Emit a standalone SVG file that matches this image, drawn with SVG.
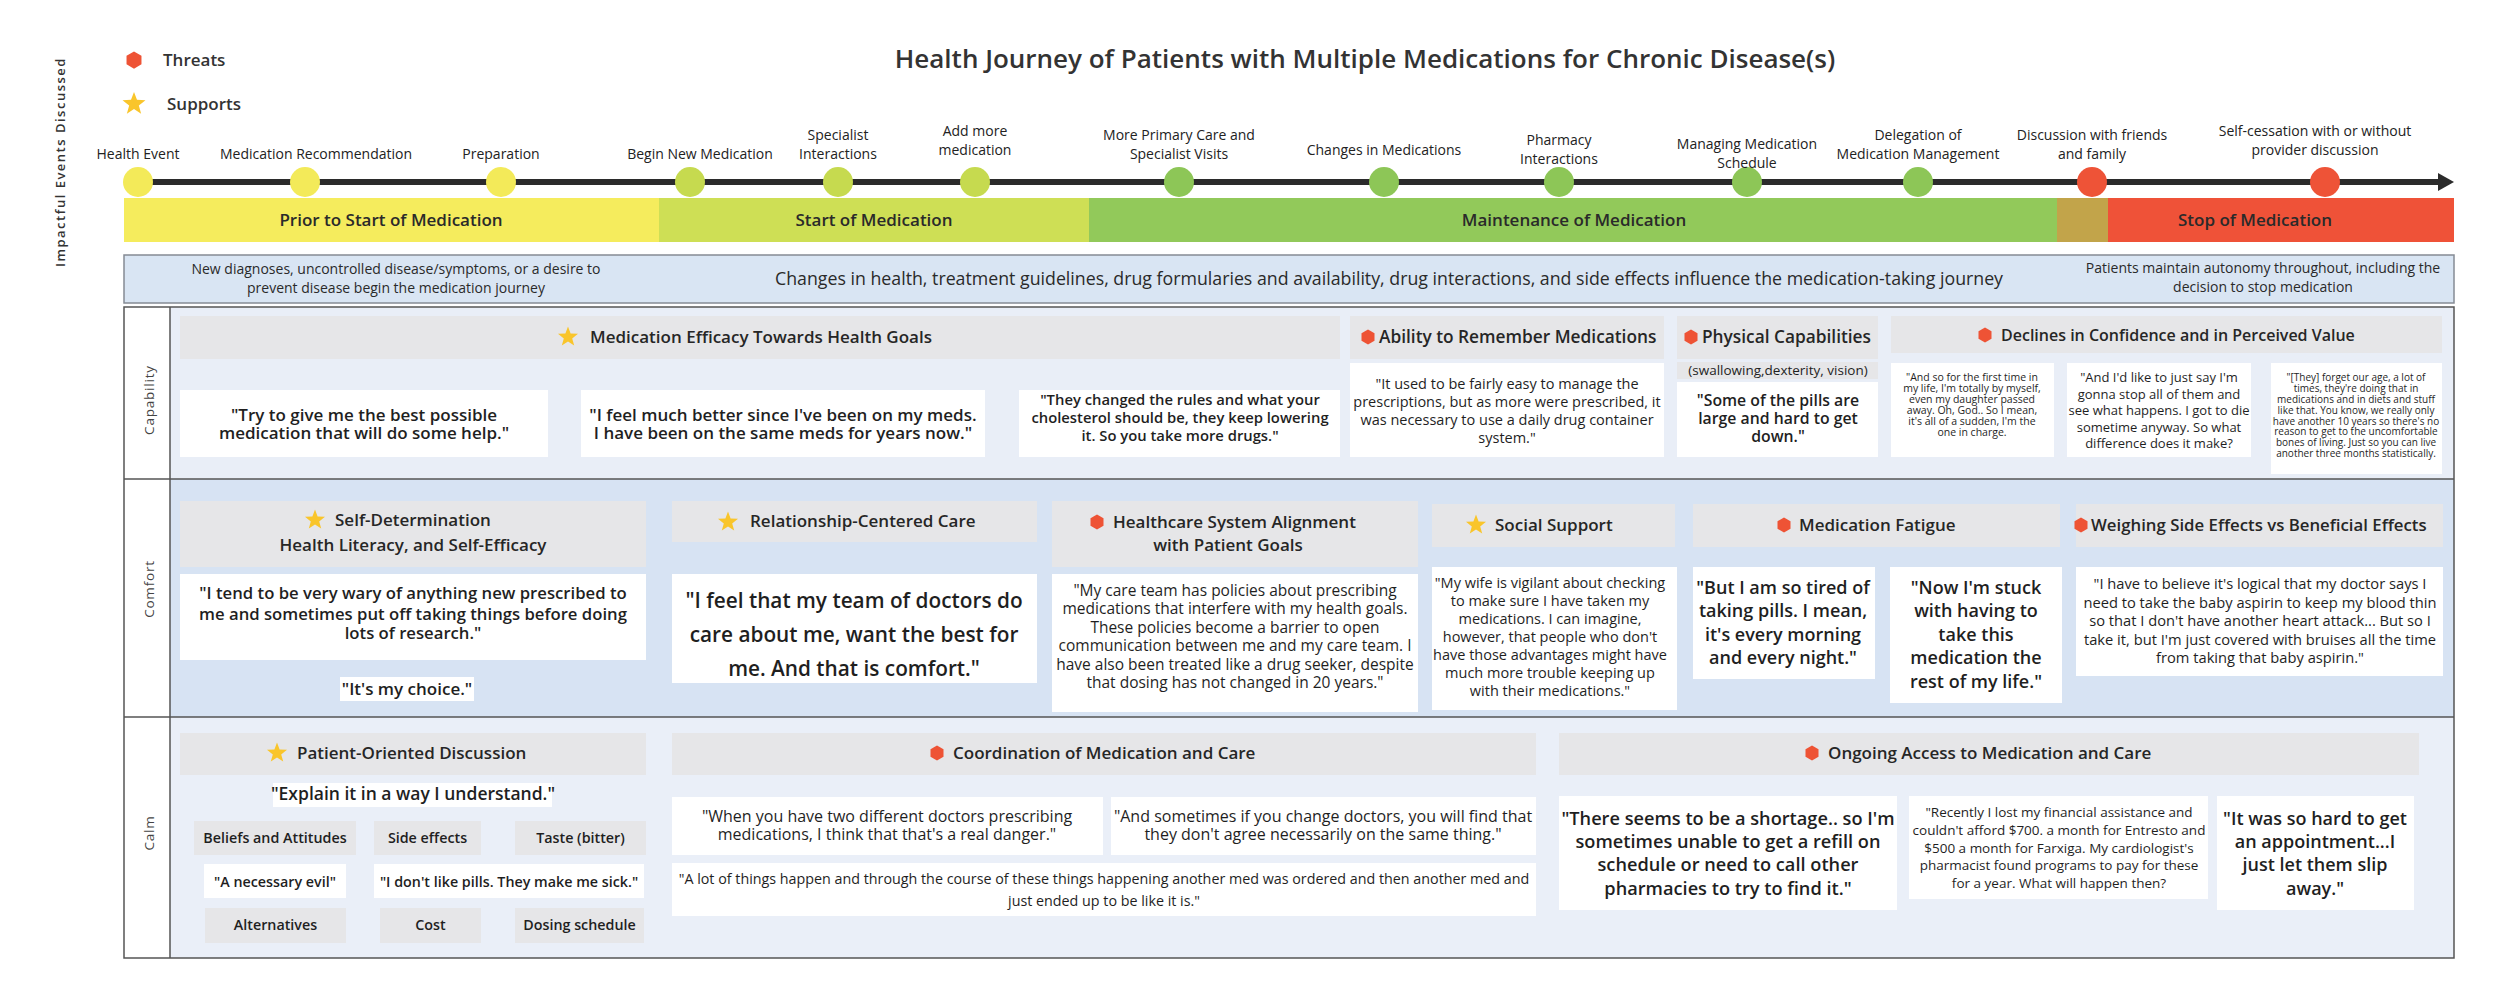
<svg xmlns="http://www.w3.org/2000/svg" xmlns:xlink="http://www.w3.org/1999/xlink" width="2500" height="1004" viewBox="0 0 2500 1004">
<style>
text{font-family:"Open Sans","Noto Sans","Liberation Sans",sans-serif;fill:#1f1f1f}
.title{font-size:26px;font-weight:600;fill:#333}
.leg{font-size:17px;font-weight:600;fill:#333}
.ev{font-size:14px;text-anchor:middle;fill:#222}
.ph{font-size:17px;font-weight:600;text-anchor:middle;fill:#2a2a2a}
.bs{font-size:14px;text-anchor:middle;fill:#2a2a2a}
.bm{font-size:17.75px;text-anchor:middle;fill:#2a2a2a}
.rl{font-size:13.5px;text-anchor:middle;fill:#444;letter-spacing:0.8px}
.hd{font-size:17px;font-weight:600;fill:#262626}
.hdm{font-size:17px;font-weight:600;fill:#262626;text-anchor:middle}
.q{text-anchor:middle;font-weight:600}
.tag{font-size:14.3px;text-anchor:middle;font-weight:600}
.hb{fill:#e6e6e8}
.wb{fill:#ffffff}
.grid{fill:none;stroke:#555;stroke-width:1.5}
</style>
<defs>
<polygon id="hex" points="0,-7.5 6.5,-3.8 6.5,3.8 0,7.5 -6.5,3.8 -6.5,-3.8" fill="#ee5335"/>
<polygon id="star" points="0,-10.5 2.6,-3.6 10,-3.2 4.2,1.4 6.2,8.5 0,4.4 -6.2,8.5 -4.2,1.4 -10,-3.2 -2.6,-3.6" fill="#f9c52b"/>
<marker id="arrow" markerUnits="userSpaceOnUse" markerWidth="16" markerHeight="18" viewBox="0 0 16 18" refX="0" refY="9" orient="auto">
<path d="M0,0 L16,9 L0,18 z" fill="#2b2b2b"/>
</marker>
</defs>
<rect width="2500" height="1004" fill="#ffffff"/>

<g id="legend">
<use xlink:href="#hex" href="#hex" transform="translate(134,60) scale(1.15)"/>
<text class="leg" x="163" y="66">Threats</text>
<use xlink:href="#star" href="#star" transform="translate(134,104) scale(1.15)"/>
<text class="leg" x="167" y="110">Supports</text>
</g>
<g id="side-label">
<text x="60" y="162" transform="rotate(-90 60 162)" text-anchor="middle" dominant-baseline="central" style="font-size:13px;font-weight:600;letter-spacing:1.5px;fill:#333">Impactful  Events Discussed</text>
</g>
<g id="title">
<text class="title" x="1365" y="68" text-anchor="middle">Health Journey of Patients with Multiple Medications for Chronic Disease(s)</text>
</g>

<g id="connectors">
<line x1="124" y1="182" x2="2438" y2="182" stroke="#2b2b2b" stroke-width="6" marker-end="url(#arrow)"/>
</g>

<g id="events">
<g id="ev-health-event"><circle cx="138" cy="182" r="15" fill="#f3ea59"/><text class="ev" x="138" y="159">Health Event</text></g>
<g id="ev-med-rec"><circle cx="305" cy="182" r="15" fill="#f3ea59"/><text class="ev" x="316" y="159">Medication Recommendation</text></g>
<g id="ev-prep"><circle cx="501" cy="182" r="15" fill="#f3ea59"/><text class="ev" x="501" y="159">Preparation</text></g>
<g id="ev-begin"><circle cx="690" cy="182" r="15" fill="#c6da4f"/><text class="ev" x="700" y="159">Begin New Medication</text></g>
<g id="ev-specialist"><circle cx="838" cy="182" r="15" fill="#c6da4f"/><text class="ev" x="838" y="140">Specialist</text><text class="ev" x="838" y="159">Interactions</text></g>
<g id="ev-add"><circle cx="975" cy="182" r="15" fill="#c6da4f"/><text class="ev" x="975" y="136">Add more</text><text class="ev" x="975" y="155">medication</text></g>
<g id="ev-more-primary"><circle cx="1179" cy="182" r="15" fill="#8dc657"/><text class="ev" x="1179" y="140">More Primary Care and</text><text class="ev" x="1179" y="159">Specialist Visits</text></g>
<g id="ev-changes"><circle cx="1384" cy="182" r="15" fill="#8dc657"/><text class="ev" x="1384" y="155">Changes in Medications</text></g>
<g id="ev-pharmacy"><circle cx="1559" cy="182" r="15" fill="#8dc657"/><text class="ev" x="1559" y="145">Pharmacy</text><text class="ev" x="1559" y="164">Interactions</text></g>
<g id="ev-managing"><circle cx="1747" cy="182" r="15" fill="#8dc657"/><text class="ev" x="1747" y="149">Managing Medication</text><text class="ev" x="1747" y="168">Schedule</text></g>
<g id="ev-delegation"><circle cx="1918" cy="182" r="15" fill="#8dc657"/><text class="ev" x="1918" y="140">Delegation of</text><text class="ev" x="1918" y="159">Medication Management</text></g>
<g id="ev-discussion"><circle cx="2092" cy="182" r="15" fill="#ee5337"/><text class="ev" x="2092" y="140">Discussion with friends</text><text class="ev" x="2092" y="159">and family</text></g>
<g id="ev-selfcessation"><circle cx="2325" cy="182" r="15" fill="#ee5337"/><text class="ev" x="2315" y="136">Self-cessation with or without</text><text class="ev" x="2315" y="155">provider discussion</text></g>
</g>

<g id="phases">
<g id="ph-prior"><rect x="124" y="198" width="535" height="44" fill="#f5ec5d"/><text class="ph" x="391" y="226">Prior to Start of Medication</text></g>
<g id="ph-start"><rect x="659" y="198" width="430" height="44" fill="#cedf55"/><text class="ph" x="874" y="226">Start of Medication</text></g>
<g id="ph-maint"><rect x="1089" y="198" width="968" height="44" fill="#92c95a"/><text class="ph" x="1574" y="226">Maintenance of Medication</text></g>
<g id="ph-transition"><rect x="2057" y="198" width="51" height="44" fill="#c2a44a"/></g>
<g id="ph-stop"><rect x="2108" y="198" width="346" height="44" fill="#ef5238"/><text class="ph" x="2255" y="226">Stop of Medication</text></g>
</g>

<g id="context-band">
<rect x="124" y="255" width="2330" height="48" fill="#d9e5f3" stroke="#858b94" stroke-width="1.5"/>
<text class="bs" x="396" y="274">New diagnoses, uncontrolled disease/symptoms, or a desire to</text>
<text class="bs" x="396" y="293">prevent disease begin the medication journey</text>
<text class="bm" x="1389" y="285">Changes in health, treatment guidelines, drug formularies and availability, drug interactions, and side effects influence the medication-taking journey</text>
<text class="bs" x="2263" y="273">Patients maintain autonomy throughout, including the</text>
<text class="bs" x="2263" y="292">decision to stop medication</text>
</g>

<g id="grid-frame">
<rect x="170" y="307" width="2284" height="172" fill="#e9eef7"/>
<rect x="170" y="479" width="2284" height="238" fill="#d7e3f3"/>
<rect x="170" y="717" width="2284" height="241" fill="#eaeff8"/>
<rect x="124" y="307" width="2330" height="651" class="grid"/>
<line x1="170" y1="307" x2="170" y2="958" class="grid"/>
<line x1="124" y1="479" x2="2454" y2="479" class="grid"/>
<line x1="124" y1="717" x2="2454" y2="717" class="grid"/>
<text class="rl" x="149" y="400" transform="rotate(-90 149 400)" dominant-baseline="central">Capability</text>
<text class="rl" x="149" y="589" transform="rotate(-90 149 589)" dominant-baseline="central">Comfort</text>
<text class="rl" x="149" y="833" transform="rotate(-90 149 833)" dominant-baseline="central">Calm</text>
</g>

<g id="capability">
<g id="cap-efficacy">
<rect class="hb" x="180" y="316" width="1160" height="43"/>
<use xlink:href="#star" href="#star" x="568" y="337"/>
<text class="hd" x="590" y="343">Medication Efficacy Towards Health Goals</text>
</g>
<g id="cap-q1"><rect class="wb" x="180" y="390" width="368" height="67"/>
<text class="q" style="font-size:17px"><tspan x="364" y="421">"Try to give me the best possible</tspan><tspan x="364" y="439">medication that will do some help."</tspan></text></g>
<g id="cap-q2"><rect class="wb" x="581" y="390" width="404" height="67"/>
<text class="q" style="font-size:17px"><tspan x="783" y="421">"I feel much better since I've been on my meds.</tspan><tspan x="783" y="439">I have been on the same meds for years now."</tspan></text></g>
<g id="cap-q3"><rect class="wb" x="1019" y="390" width="321" height="67"/>
<text class="q" style="font-size:14.8px"><tspan x="1180" y="405">"They changed the rules and what your</tspan><tspan x="1180" y="423">cholesterol should be, they keep lowering</tspan><tspan x="1180" y="441">it. So you take more drugs."</tspan></text></g>

<g id="cap-remember">
<rect class="hb" x="1350" y="316" width="314" height="43"/>
<use xlink:href="#hex" href="#hex" x="1368" y="337"/>
<text class="hd" x="1379" y="343" style="font-size:17.3px">Ability to Remember Medications</text>
</g>
<g id="cap-q4"><rect class="wb" x="1350" y="363" width="314" height="94"/>
<text class="q" style="font-size:14.5px;font-weight:500"><tspan x="1507" y="389">"It used to be fairly easy to manage the</tspan><tspan x="1507" y="407">prescriptions, but as more were prescribed, it</tspan><tspan x="1507" y="425">was necessary to use a daily drug container</tspan><tspan x="1507" y="443">system."</tspan></text></g>

<g id="cap-physical">
<rect class="hb" x="1677" y="316" width="201" height="43"/>
<use xlink:href="#hex" href="#hex" x="1691" y="337"/>
<text class="hd" x="1702" y="343" style="font-size:17.3px">Physical Capabilities</text>
<rect class="hb" x="1677" y="362" width="201" height="17"/>
<text class="q" x="1778" y="375" style="font-size:13.5px;font-weight:500">(swallowing,dexterity, vision)</text>
</g>
<g id="cap-q5"><rect class="wb" x="1677" y="382" width="201" height="75"/>
<text class="q" style="font-size:15.8px"><tspan x="1778" y="406">"Some of the pills are</tspan><tspan x="1778" y="424">large and hard to get</tspan><tspan x="1778" y="442">down."</tspan></text></g>

<g id="cap-declines">
<rect class="hb" x="1891" y="316" width="551" height="37"/>
<use xlink:href="#hex" href="#hex" x="1985" y="335"/>
<text class="hd" x="2001" y="341" style="font-size:16px">Declines in Confidence and in Perceived Value</text>
</g>
<g id="cap-q6"><rect class="wb" x="1891" y="363" width="163" height="94"/>
<text class="q" style="font-size:10.5px;font-weight:500"><tspan x="1972" y="381">"And so for the first time in</tspan><tspan x="1972" y="392">my life, I'm totally by myself,</tspan><tspan x="1972" y="403">even my daughter passed</tspan><tspan x="1972" y="414">away. Oh, God.. So I mean,</tspan><tspan x="1972" y="425">it's all of a sudden, I'm the</tspan><tspan x="1972" y="436">one in charge.</tspan></text></g>
<g id="cap-q7"><rect class="wb" x="2067" y="363" width="184" height="94"/>
<text class="q" style="font-size:13px;font-weight:500"><tspan x="2159" y="382">"And I'd like to just say I'm</tspan><tspan x="2159" y="398.5">gonna stop all of them and</tspan><tspan x="2159" y="415">see what happens. I got to die</tspan><tspan x="2159" y="431.5">sometime anyway. So what</tspan><tspan x="2159" y="448">difference does it make?</tspan></text></g>
<g id="cap-q8"><rect class="wb" x="2271" y="363" width="171" height="111"/>
<text class="q" style="font-size:10px;font-weight:500"><tspan x="2356" y="380.5">"[They] forget our age, a lot of</tspan><tspan x="2356" y="391.5">times, they're doing that in</tspan><tspan x="2356" y="402.5">medications and in diets and stuff</tspan><tspan x="2356" y="413.5">like that. You know, we really only</tspan><tspan x="2356" y="424.5">have another 10 years so there's no</tspan><tspan x="2356" y="435">reason to get to the uncomfortable</tspan><tspan x="2356" y="446">bones of living. Just so you can live</tspan><tspan x="2356" y="457">another three months statistically.</tspan></text></g>
</g>

<g id="comfort">
<g id="com-selfdet">
<rect class="hb" x="180" y="501" width="466" height="66"/>
<use xlink:href="#star" href="#star" x="315" y="520"/>
<text class="hd" x="335" y="526">Self-Determination</text>
<text class="hdm" x="413" y="551">Health Literacy, and Self-Efficacy</text>
</g>
<g id="com-q9"><rect class="wb" x="180" y="574" width="466" height="86"/>
<text class="q" style="font-size:16.7px"><tspan x="413" y="599">"I tend to be very wary of anything new prescribed to</tspan><tspan x="413" y="620">me and sometimes put off taking things before doing</tspan><tspan x="413" y="639">lots of research."</tspan></text></g>
<g id="com-q9b"><rect class="wb" x="340" y="677" width="134" height="24"/>
<text class="q" x="407" y="695" style="font-size:17px">"It's my choice."</text></g>
<g id="com-relationship">
<rect class="hb" x="672" y="501" width="365" height="41"/>
<use xlink:href="#star" href="#star" x="728" y="522"/>
<text class="hd" x="750" y="527">Relationship-Centered Care</text>
</g>
<g id="com-q10"><rect class="wb" x="672" y="574" width="365" height="109"/>
<text class="q" style="font-size:20.8px"><tspan x="854" y="608">"I feel that my team of doctors do</tspan><tspan x="854" y="642">care about me, want the best for</tspan><tspan x="854" y="676">me. And that is comfort."</tspan></text></g>
<g id="com-healthcare">
<rect class="hb" x="1052" y="501" width="366" height="66"/>
<use xlink:href="#hex" href="#hex" x="1097" y="522"/>
<text class="hd" x="1113" y="528">Healthcare System Alignment</text>
<text class="hdm" x="1228" y="551">with Patient Goals</text>
</g>
<g id="com-q11"><rect class="wb" x="1052" y="574" width="366" height="138"/>
<text class="q" style="font-size:15.5px;font-weight:500"><tspan x="1235" y="595.5">"My care team has policies about prescribing</tspan><tspan x="1235" y="614">medications that interfere with my health goals.</tspan><tspan x="1235" y="632.5">These policies become a barrier to open</tspan><tspan x="1235" y="651">communication between me and my care team. I</tspan><tspan x="1235" y="669.5">have also been treated like a drug seeker, despite</tspan><tspan x="1235" y="688">that dosing has not changed in 20 years."</tspan></text></g>
<g id="com-social">
<rect class="hb" x="1432" y="504" width="243" height="43"/>
<use xlink:href="#star" href="#star" x="1476" y="525"/>
<text class="hd" x="1495" y="531">Social Support</text>
</g>
<g id="com-q12"><rect class="wb" x="1432" y="567" width="245" height="143"/>
<text class="q" style="font-size:14.5px;font-weight:500"><tspan x="1550" y="588">"My wife is vigilant about checking</tspan><tspan x="1550" y="606">to make sure I have taken my</tspan><tspan x="1550" y="624">medications. I can imagine,</tspan><tspan x="1550" y="642">however, that people who don't</tspan><tspan x="1550" y="660">have those advantages might have</tspan><tspan x="1550" y="678">much more trouble keeping up</tspan><tspan x="1550" y="696">with their medications."</tspan></text></g>
<g id="com-fatigue">
<rect class="hb" x="1693" y="504" width="367" height="43"/>
<use xlink:href="#hex" href="#hex" x="1784" y="525"/>
<text class="hd" x="1799" y="531">Medication Fatigue</text>
</g>
<g id="com-q13"><rect class="wb" x="1693" y="567" width="182" height="112"/>
<text class="q" style="font-size:18px"><tspan x="1783" y="593.5">"But I am so tired of</tspan><tspan x="1783" y="617">taking pills. I mean,</tspan><tspan x="1783" y="640.5">it's every morning</tspan><tspan x="1783" y="664">and every night."</tspan></text></g>
<g id="com-q14"><rect class="wb" x="1890" y="567" width="172" height="136"/>
<text class="q" style="font-size:18px"><tspan x="1976" y="593.5">"Now I'm stuck</tspan><tspan x="1976" y="617">with having to</tspan><tspan x="1976" y="640.5">take this</tspan><tspan x="1976" y="664">medication the</tspan><tspan x="1976" y="688">rest of my life."</tspan></text></g>
<g id="com-weighing">
<rect class="hb" x="2076" y="504" width="367" height="43"/>
<use xlink:href="#hex" href="#hex" x="2081" y="525"/>
<text class="hd" x="2091" y="531" style="font-size:16.8px">Weighing Side Effects vs Beneficial Effects</text>
</g>
<g id="com-q15"><rect class="wb" x="2076" y="567" width="367" height="109"/>
<text class="q" style="font-size:14.7px;font-weight:500"><tspan x="2260" y="589">"I have to believe it's logical that my doctor says I</tspan><tspan x="2260" y="607.5">need to take the baby aspirin to keep my blood thin</tspan><tspan x="2260" y="626">so that I don't have another heart attack... But so I</tspan><tspan x="2260" y="644.5">take it, but I'm just covered with bruises all the time</tspan><tspan x="2260" y="663">from taking that baby aspirin."</tspan></text></g>
</g>

<g id="calm">
<g id="calm-patient">
<rect class="hb" x="180" y="733" width="466" height="42"/>
<use xlink:href="#star" href="#star" x="277" y="753"/>
<text class="hd" x="297" y="759">Patient-Oriented Discussion</text>
</g>
<g id="calm-explain"><rect class="wb" x="273" y="783" width="279" height="24"/>
<text class="q" x="413" y="800" style="font-size:17.5px">"Explain it in a way I understand."</text></g>
<g id="calm-beliefs"><rect class="hb" x="194" y="821" width="162" height="34"/><text class="tag" x="275" y="843">Beliefs and Attitudes</text></g>
<g id="calm-side"><rect class="hb" x="374" y="821" width="107" height="34"/><text class="tag" x="427.5" y="843">Side effects</text></g>
<g id="calm-taste"><rect class="hb" x="515" y="821" width="131" height="34"/><text class="tag" x="580.5" y="843">Taste (bitter)</text></g>
<g id="calm-evil"><rect class="wb" x="204" y="864" width="142" height="34"/><text class="tag" x="275" y="887">"A necessary evil"</text></g>
<g id="calm-pills"><rect class="wb" x="374" y="864" width="270" height="34"/><text class="tag" x="509" y="887">"I don't like pills. They make me sick."</text></g>
<g id="calm-alt"><rect class="hb" x="205" y="908" width="141" height="35"/><text class="tag" x="275.5" y="930">Alternatives</text></g>
<g id="calm-cost"><rect class="hb" x="380" y="908" width="101" height="35"/><text class="tag" x="430.5" y="930">Cost</text></g>
<g id="calm-dosing"><rect class="hb" x="515" y="908" width="129" height="35"/><text class="tag" x="579.5" y="930">Dosing schedule</text></g>

<g id="calm-coord">
<rect class="hb" x="672" y="733" width="864" height="42"/>
<use xlink:href="#hex" href="#hex" x="937" y="753"/>
<text class="hd" x="953" y="759">Coordination of Medication and Care</text>
</g>
<g id="calm-q16"><rect class="wb" x="672" y="797" width="431" height="58"/>
<text class="q" style="font-size:16px;font-weight:500"><tspan x="887" y="821.5">"When you have two different doctors prescribing</tspan><tspan x="887" y="839.5">medications, I think that that's a real danger."</tspan></text></g>
<g id="calm-q17"><rect class="wb" x="1111" y="797" width="425" height="58"/>
<text class="q" style="font-size:16px;font-weight:500"><tspan x="1323" y="821.5">"And sometimes if you change doctors, you will find that</tspan><tspan x="1323" y="839.5">they don't agree necessarily on the same thing."</tspan></text></g>
<g id="calm-q18"><rect class="wb" x="672" y="863" width="864" height="53"/>
<text class="q" style="font-size:14.3px;font-weight:500"><tspan x="1104" y="884">"A lot of things happen and through the course of these things happening another med was ordered and then another med and</tspan><tspan x="1104" y="906">just ended up to be like it is."</tspan></text></g>

<g id="calm-access">
<rect class="hb" x="1559" y="733" width="860" height="42"/>
<use xlink:href="#hex" href="#hex" x="1812" y="753"/>
<text class="hd" x="1828" y="759">Ongoing Access to Medication and Care</text>
</g>
<g id="calm-q19"><rect class="wb" x="1559" y="796" width="338" height="114"/>
<text class="q" style="font-size:18.2px"><tspan x="1728" y="825">"There seems to be a shortage.. so I'm</tspan><tspan x="1728" y="848">sometimes unable to get a refill on</tspan><tspan x="1728" y="871">schedule or need to call other</tspan><tspan x="1728" y="895">pharmacies to try to find it."</tspan></text></g>
<g id="calm-q20"><rect class="wb" x="1909" y="796" width="299" height="103"/>
<text class="q" style="font-size:13.5px;font-weight:500"><tspan x="2059" y="816.5">"Recently I lost my financial assistance and</tspan><tspan x="2059" y="834.5">couldn't afford $700. a month for Entresto and</tspan><tspan x="2059" y="852.5">$500 a month for Farxiga. My cardiologist's</tspan><tspan x="2059" y="869.5">pharmacist found programs to pay for these</tspan><tspan x="2059" y="887.5">for a year. What will happen then?</tspan></text></g>
<g id="calm-q21"><rect class="wb" x="2217" y="796" width="197" height="114"/>
<text class="q" style="font-size:18px"><tspan x="2315" y="824.5">"It was so hard to get</tspan><tspan x="2315" y="847.5">an appointment...I</tspan><tspan x="2315" y="870.5">just let them slip</tspan><tspan x="2315" y="894.5">away."</tspan></text></g>
</g>
</svg>
